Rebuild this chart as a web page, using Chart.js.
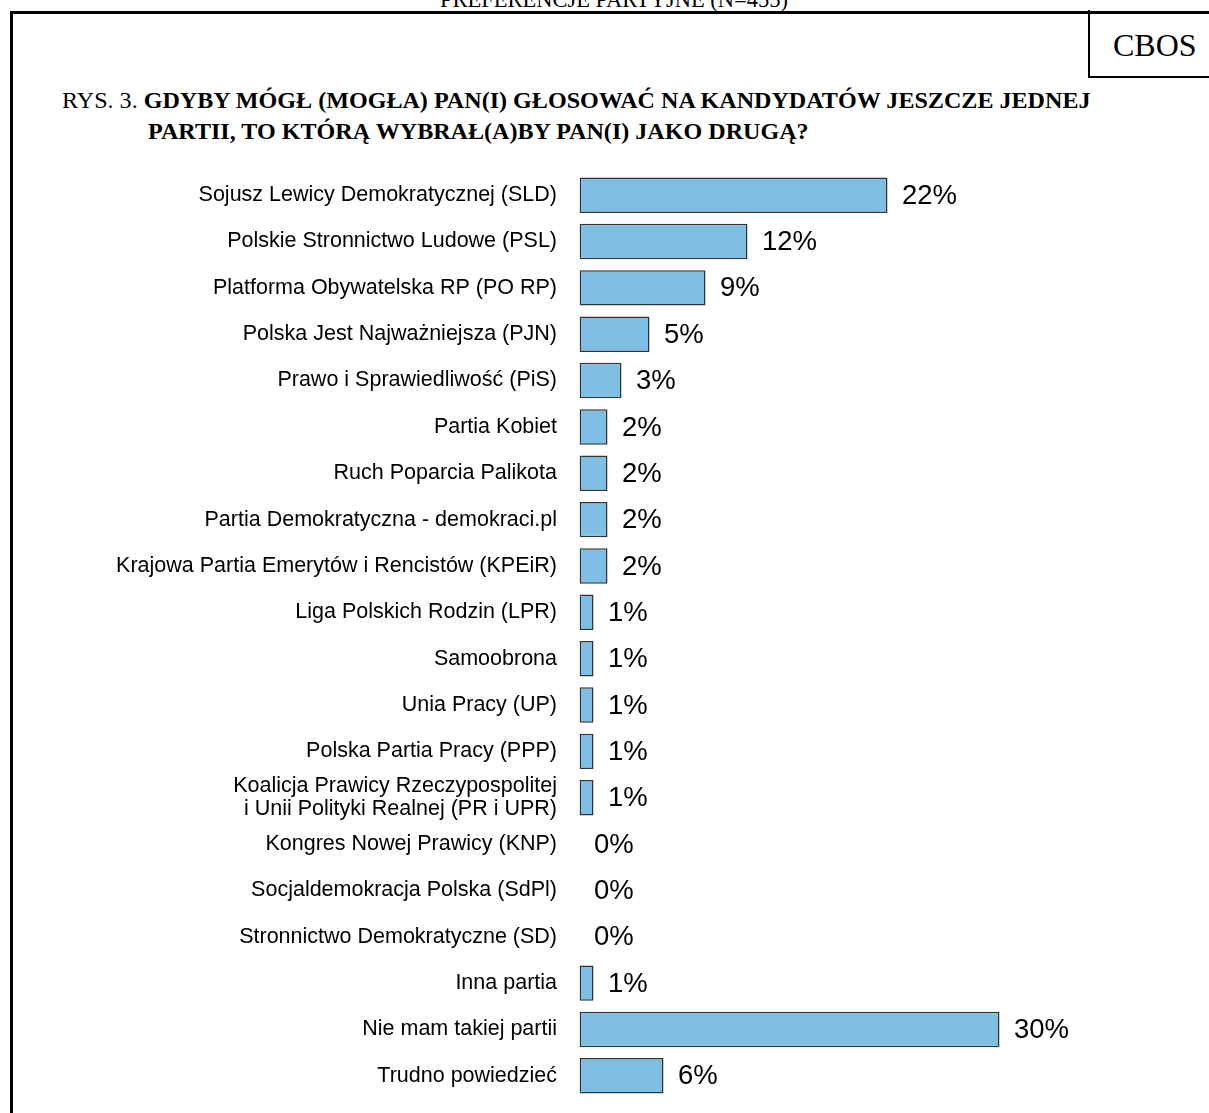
<!DOCTYPE html>
<html>
<head>
<meta charset="utf-8">
<script src="https://cdn.jsdelivr.net/npm/chart.js@4/dist/chart.umd.min.js"></script>
<style>
  html, body { margin: 0; padding: 0; background: #fff; }
  body { width: 1209px; height: 1113px; position: relative; overflow: hidden; }
  .abs { position: absolute; }
  .line { position: absolute; background: #000; }
  .serif { font-family: "Liberation Serif", "Times New Roman", serif; color: #000; white-space: nowrap; }
  #chartWrap { position: absolute; left: 0; top: 0; width: 1209px; height: 1160px; }
</style>
</head>
<body>
<div class="abs serif" id="header" style="left:0; width:1228px; text-align:center; top:-11px; font-size:22.5px; line-height:22px;">PREFERENCJE PARTYJNE (N=455)</div>
<div class="line" style="left:10px; top:11px; width:1199px; height:3px;"></div>
<div class="line" style="left:10px; top:11px; width:3px; height:1102px;"></div>
<div class="line" style="left:1088px; top:10px; width:2px; height:68px;"></div>
<div class="line" style="left:1088px; top:76px; width:121px; height:2px;"></div>
<div class="abs serif" style="left:1113px; top:29px; font-size:32px; line-height:32px;">CBOS</div>
<div class="abs serif" style="left:62px; top:88px; font-size:24.1px; line-height:24px;">RYS. 3. <b>GDYBY MÓGŁ (MOGŁA) PAN(I) GŁOSOWAĆ NA KANDYDATÓW JESZCZE JEDNEJ</b></div>
<div class="abs serif" style="left:148px; top:119px; font-size:24.1px; line-height:24px;"><b>PARTII, TO KTÓRĄ WYBRAŁ(A)BY PAN(I) JAKO DRUGĄ?</b></div>
<div id="chartWrap"><canvas id="c" width="1209" height="1160"></canvas></div>
<script>
const categories = [
  'Sojusz Lewicy Demokratycznej (SLD)',
  'Polskie Stronnictwo Ludowe (PSL)',
  'Platforma Obywatelska RP (PO RP)',
  'Polska Jest Najważniejsza (PJN)',
  'Prawo i Sprawiedliwość (PiS)',
  'Partia Kobiet',
  'Ruch Poparcia Palikota',
  'Partia Demokratyczna - demokraci.pl',
  'Krajowa Partia Emerytów i Rencistów (KPEiR)',
  'Liga Polskich Rodzin (LPR)',
  'Samoobrona',
  'Unia Pracy (UP)',
  'Polska Partia Pracy (PPP)',
  ['Koalicja Prawicy Rzeczypospolitej', 'i Unii Polityki Realnej (PR i UPR)'],
  'Kongres Nowej Prawicy (KNP)',
  'Socjaldemokracja Polska (SdPl)',
  'Stronnictwo Demokratyczne (SD)',
  'Inna partia',
  'Nie mam takiej partii',
  'Trudno powiedzieć'
];
const values = [22, 12, 9, 5, 3, 2, 2, 2, 2, 1, 1, 1, 1, 1, 0, 0, 0, 1, 30, 6];
const valueLabels = values.map(v => v + '%');

const AXIS_LEFT = 579.5;

const valueLabelPlugin = {
  id: 'valueLabels',
  afterDatasetsDraw(chart) {
    const ctx = chart.ctx;
    const meta = chart.getDatasetMeta(0);
    ctx.save();
    ctx.font = '27.5px "Liberation Sans", Arial, sans-serif';
    ctx.fillStyle = '#000';
    ctx.textAlign = 'left';
    ctx.textBaseline = 'middle';
    meta.data.forEach((el, i) => {
      ctx.fillText(valueLabels[i], el.x + 14.5, el.y + 1);
    });
    ctx.restore();
  }
};

new Chart(document.getElementById('c'), {
  type: 'bar',
  data: {
    labels: categories,
    datasets: [{
      data: values,
      backgroundColor: '#7fbfe3',
      borderColor: '#333333',
      borderWidth: (c) => (values[c.dataIndex] === 0 ? 0 : 1.5),
      borderSkipped: false,
      categoryPercentage: 1,
      barPercentage: 0.765
    }]
  },
  options: {
    indexAxis: 'y',
    responsive: false,
    animation: false,
    layout: { padding: { top: 172, bottom: 61, left: 0, right: 69.5 } },
    plugins: { legend: { display: false }, tooltip: { enabled: false } },
    scales: {
      x: { display: false, min: 0, max: 40 },
      y: {
        grid: { display: false, drawTicks: false },
        border: { display: false },
        afterFit(scale) { scale.width = AXIS_LEFT; },
        ticks: {
          padding: 22.5,
          color: '#000',
          autoSkip: false,
          font: { family: '"Liberation Sans", Arial, sans-serif', size: 21.5, lineHeight: 1.07 }
        }
      }
    }
  },
  plugins: [valueLabelPlugin]
});
</script>
</body>
</html>
